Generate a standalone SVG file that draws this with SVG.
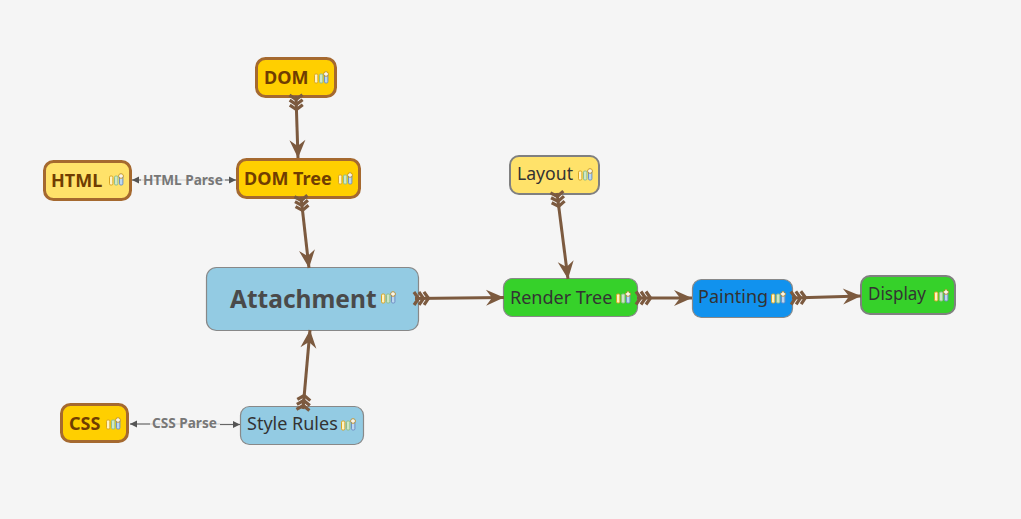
<svg xmlns="http://www.w3.org/2000/svg" width="1021" height="519" viewBox="0 0 1021 519">
<style>
text{font-family:"Noto Sans","Open Sans","Liberation Sans",sans-serif}
.box{stroke:#888;stroke-width:1.2}
.thick{stroke:#a5692f;stroke-width:3}
.grey2{stroke:#808080;stroke-width:2}
.gold{fill:#ffcf00}.yel{fill:#ffe26a}.blue{fill:#93cbe3}.green{fill:#36d12a}.azure{fill:#1192ee}
.bt{font-weight:700;font-size:18px;fill:#703d02}
.rt{font-size:18px;fill:#333}
.lab{font-size:13.600px;font-weight:700;fill:#777}
.arrow{fill:none;stroke:#7c5a3f;stroke-width:3;marker-start:url(#tail);marker-end:url(#head)}
.thin{fill:none;stroke:#666;stroke-width:1.2}
.faint{fill:none;stroke:#ccc;stroke-width:1.2}
</style>
<defs>
<marker id="head" markerUnits="userSpaceOnUse" markerWidth="20" markerHeight="20" refX="18" refY="9" orient="auto" overflow="visible"><path d="M18,9 L0,1 L6,9 L0,17Z" fill="#7c5a3f"/></marker>
<marker id="tail" markerUnits="userSpaceOnUse" markerWidth="20" markerHeight="20" refX="1" refY="8" orient="auto" overflow="visible"><path d="M0,1.500 L4.500,8 L0,14.500 M5,1.500 L9.500,8 L5,14.500 M10,1.500 L14.500,8 L10,14.500" fill="none" stroke="#7c5a3f" stroke-width="3.200"/></marker>
<marker id="sh" markerUnits="userSpaceOnUse" markerWidth="8" markerHeight="8" refX="7" refY="4" orient="auto" overflow="visible"><path d="M7,4 L0,0.500 L0,7.500Z" fill="#555"/></marker>
<g id="ic">
<rect x="0.500" y="3" width="3.400" height="9" rx="1.200" fill="#fff3c4" stroke="#d8a520" stroke-width="1"/>
<rect x="5.500" y="3" width="3.400" height="9" rx="1.200" fill="#cfe6c8" stroke="#8fbf88" stroke-width="1"/>
<rect x="10.500" y="3" width="3.400" height="9" rx="1.200" fill="#bcd8f0" stroke="#6f8fc4" stroke-width="1"/>
<path d="M12,0.200V6M9.200,3H14.800" stroke="#b98a20" stroke-width="2.600"/>
<path d="M12,0.800V5.400M9.800,3H14.200" stroke="#fff" stroke-width="1.300"/>
</g>
</defs>
<rect width="1021" height="519" fill="#f5f5f5"/>
<g id="dom"><rect class="gold thick" x="256.500" y="58.500" width="79" height="38" rx="9"/><text class="bt" x="264" y="84">DOM</text><use href="#ic" x="314" y="71"/></g>
<g id="domtree"><rect class="gold thick" x="237.500" y="159.500" width="122" height="38" rx="9"/><text class="bt" x="244" y="185">DOM Tree</text><use href="#ic" x="338" y="172"/></g>
<g id="html"><rect class="yel thick" x="44.500" y="161.500" width="86" height="38" rx="9"/><text class="bt" x="51" y="187">HTML</text><use href="#ic" x="109" y="173"/></g>
<g id="css"><rect class="gold thick" x="61.500" y="404.500" width="66" height="37" rx="9"/><text class="bt" x="69" y="430">CSS</text><use href="#ic" x="106" y="417"/></g>
<g id="attachment"><rect class="blue box" x="206.500" y="267.500" width="212" height="63" rx="10"/><text x="230" y="308" style="font-size:24.500px;font-weight:700;fill:#4a4a4a">Attachment</text><use href="#ic" x="381" y="291"/></g>
<g id="stylerules"><rect class="blue box" x="240.500" y="406.500" width="123" height="38" rx="9"/><text class="rt" x="247" y="430">Style Rules</text><use href="#ic" x="341" y="418"/></g>
<g id="layout"><rect class="yel grey2" x="510" y="156" width="89" height="38" rx="9"/><text class="rt" x="517" y="180" textLength="56" lengthAdjust="spacingAndGlyphs">Layout</text><use href="#ic" x="578" y="168"/></g>
<g id="rendertree"><rect class="green box" x="503.500" y="278.500" width="134" height="38" rx="9"/><text class="rt" x="510" y="304">Render Tree</text><use href="#ic" x="616" y="291"/></g>
<g id="painting"><rect class="azure box" x="692.500" y="279.500" width="100" height="38" rx="9"/><text class="rt" x="698" y="303">Painting</text><use href="#ic" x="771" y="291"/></g>
<g id="display"><rect class="green grey2" x="861" y="276" width="94" height="38" rx="9"/><text class="rt" x="868" y="300" textLength="58" lengthAdjust="spacingAndGlyphs">Display</text><use href="#ic" x="934" y="289"/></g>
<g id="connectors">
<path class="arrow" d="M296,96L298,158"/>
<path class="arrow" d="M301,197L309,268"/>
<path class="arrow" d="M557,193L568,279"/>
<path class="arrow" d="M415,298.500L504,297.500"/>
<path class="arrow" d="M637,298L692,298"/>
<path class="arrow" d="M792,298L861,296"/>
<path class="arrow" d="M303,409L310,330"/>
<path class="faint" d="M141,180H225"/>
<path class="thin" d="M141,180H132" marker-end="url(#sh)"/>
<path class="thin" d="M225,180H236" marker-end="url(#sh)"/>
<text class="lab" x="143" y="185">HTML Parse</text>
<path class="faint" d="M150,424H220"/>
<path class="thin" d="M150,424H130" marker-end="url(#sh)"/>
<path class="thin" d="M220,424.500H240" marker-end="url(#sh)"/>
<text class="lab" x="152" y="428">CSS Parse</text>
</g>
</svg>
